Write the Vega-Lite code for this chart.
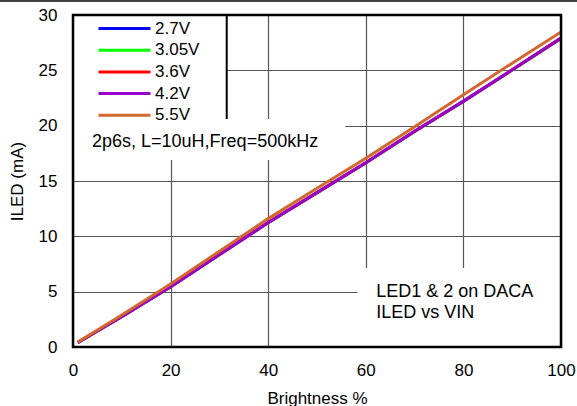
{
  "$schema": "https://vega.github.io/schema/vega-lite/v6.json",
  "width": 488,
  "height": 332,
  "autosize": {"type": "none"},
  "padding": {"left": 73, "top": 15, "right": 16, "bottom": 59},
  "config": {
    "font": "Liberation Sans",
    "view": {"stroke": null},
    "axis": {
      "labelFontSize": 17,
      "titleFontSize": 17,
      "labelColor": "#000",
      "titleColor": "#000",
      "titleFontWeight": "normal",
      "gridColor": "#555",
      "gridWidth": 1.2,
      "gridOpacity": 1,
      "domain": false,
      "ticks": false,
      "labelFlush": false
    }
  },
  "data": {
    "values": [
      {"b": 1, "i": 0.4, "s": "2.7V"}, {"b": 10, "i": 2.74, "s": "2.7V"}, {"b": 20, "i": 5.44, "s": "2.7V"}, {"b": 30, "i": 8.34, "s": "2.7V"}, {"b": 40, "i": 11.24, "s": "2.7V"}, {"b": 50, "i": 13.94, "s": "2.7V"}, {"b": 60, "i": 16.64, "s": "2.7V"}, {"b": 70, "i": 19.48, "s": "2.7V"}, {"b": 80, "i": 22.18, "s": "2.7V"}, {"b": 90, "i": 25.02, "s": "2.7V"}, {"b": 100, "i": 27.88, "s": "2.7V"},
      {"b": 1, "i": 0.4, "s": "3.05V"}, {"b": 10, "i": 2.75, "s": "3.05V"}, {"b": 20, "i": 5.45, "s": "3.05V"}, {"b": 30, "i": 8.35, "s": "3.05V"}, {"b": 40, "i": 11.25, "s": "3.05V"}, {"b": 50, "i": 13.95, "s": "3.05V"}, {"b": 60, "i": 16.65, "s": "3.05V"}, {"b": 70, "i": 19.5, "s": "3.05V"}, {"b": 80, "i": 22.2, "s": "3.05V"}, {"b": 90, "i": 25.04, "s": "3.05V"}, {"b": 100, "i": 27.9, "s": "3.05V"},
      {"b": 1, "i": 0.4, "s": "3.6V"}, {"b": 10, "i": 2.75, "s": "3.6V"}, {"b": 20, "i": 5.45, "s": "3.6V"}, {"b": 30, "i": 8.35, "s": "3.6V"}, {"b": 40, "i": 11.25, "s": "3.6V"}, {"b": 50, "i": 13.95, "s": "3.6V"}, {"b": 60, "i": 16.65, "s": "3.6V"}, {"b": 70, "i": 19.5, "s": "3.6V"}, {"b": 80, "i": 22.21, "s": "3.6V"}, {"b": 90, "i": 25.05, "s": "3.6V"}, {"b": 100, "i": 27.91, "s": "3.6V"},
      {"b": 1, "i": 0.4, "s": "4.2V"}, {"b": 10, "i": 2.75, "s": "4.2V"}, {"b": 20, "i": 5.45, "s": "4.2V"}, {"b": 30, "i": 8.35, "s": "4.2V"}, {"b": 40, "i": 11.25, "s": "4.2V"}, {"b": 50, "i": 13.95, "s": "4.2V"}, {"b": 60, "i": 16.65, "s": "4.2V"}, {"b": 70, "i": 19.5, "s": "4.2V"}, {"b": 80, "i": 22.22, "s": "4.2V"}, {"b": 90, "i": 25.05, "s": "4.2V"}, {"b": 100, "i": 27.92, "s": "4.2V"},
      {"b": 1, "i": 0.45, "s": "5.5V"}, {"b": 10, "i": 2.9, "s": "5.5V"}, {"b": 20, "i": 5.7, "s": "5.5V"}, {"b": 30, "i": 8.65, "s": "5.5V"}, {"b": 40, "i": 11.6, "s": "5.5V"}, {"b": 50, "i": 14.35, "s": "5.5V"}, {"b": 60, "i": 17.05, "s": "5.5V"}, {"b": 70, "i": 19.9, "s": "5.5V"}, {"b": 80, "i": 22.8, "s": "5.5V"}, {"b": 90, "i": 25.65, "s": "5.5V"}, {"b": 100, "i": 28.46, "s": "5.5V"}
    ]
  },
  "layer": [
    {
      "mark": {"type": "line", "strokeWidth": 3},
      "encoding": {
        "x": {"field": "b", "type": "quantitative", "scale": {"domain": [0, 100], "nice": false},
              "axis": {"title": "Brightness %", "values": [0, 20, 40, 60, 80, 100], "labelPadding": 15, "titlePadding": 12}},
        "y": {"field": "i", "type": "quantitative", "scale": {"domain": [0, 30], "nice": false},
              "axis": {"title": "ILED (mA)", "values": [0, 5, 10, 15, 20, 25, 30], "labelPadding": 16, "titlePadding": 12}},
        "color": {
          "field": "s", "type": "nominal",
          "scale": {"domain": ["2.7V", "3.05V", "3.6V", "4.2V", "5.5V"], "range": ["#0000ff", "#00ff00", "#ff0000", "#9900cc", "#d2672f"]},
          "legend": {"title": null, "orient": "none", "legendX": 43, "legendY": 5, "padding": 0,
                     "symbolType": "M-5,0H5", "symbolSize": 108, "symbolStrokeWidth": 3,
                     "labelFontSize": 17, "labelColor": "#000", "labelOffset": 22, "rowPadding": 3.7}
        }
      }
    },
    {
      "data": {"values": [{}]},
      "mark": {"type": "rect", "fill": "white", "stroke": "black", "strokeWidth": 2},
      "encoding": {"x": {"datum": 0, "type": "quantitative"}, "x2": {"datum": 31.5}, "y": {"datum": 30, "type": "quantitative"}, "y2": {"datum": 20.3}}
    },
    {
      "data": {"values": [{}]},
      "mark": {"type": "rect", "fill": "white"},
      "encoding": {"x": {"datum": 0, "type": "quantitative"}, "x2": {"datum": 55.8}, "y": {"datum": 20.6, "type": "quantitative"}, "y2": {"datum": 16.9}}
    },
    {
      "data": {"values": [{}]},
      "mark": {"type": "rect", "fill": "white"},
      "encoding": {"x": {"datum": 58.3, "type": "quantitative"}, "x2": {"datum": 100}, "y": {"datum": 7.14, "type": "quantitative"}, "y2": {"datum": 0}}
    },
    {
      "data": {"values": [{}]},
      "mark": {"type": "text", "align": "left", "baseline": "middle", "fontSize": 18, "color": "#000", "text": "2p6s, L=10uH,Freq=500kHz"},
      "encoding": {"x": {"datum": 3.9, "type": "quantitative"}, "y": {"datum": 18.55, "type": "quantitative"}}
    },
    {
      "data": {"values": [{}]},
      "mark": {"type": "text", "align": "left", "baseline": "middle", "fontSize": 18, "color": "#000", "text": "LED1 & 2 on DACA"},
      "encoding": {"x": {"datum": 62.15, "type": "quantitative"}, "y": {"datum": 4.97, "type": "quantitative"}}
    },
    {
      "data": {"values": [{}]},
      "mark": {"type": "text", "align": "left", "baseline": "middle", "fontSize": 18, "color": "#000", "text": "ILED vs VIN"},
      "encoding": {"x": {"datum": 62.15, "type": "quantitative"}, "y": {"datum": 3.07, "type": "quantitative"}}
    },
    {
      "data": {"values": [{}]},
      "mark": {"type": "rect", "fill": null, "fillOpacity": 0, "stroke": "black", "strokeWidth": 2.5},
      "encoding": {"x": {"datum": 0, "type": "quantitative"}, "x2": {"datum": 100}, "y": {"datum": 30, "type": "quantitative"}, "y2": {"datum": 0}}
    },
    {
      "data": {"values": [{}]},
      "mark": {"type": "rule", "stroke": "black", "strokeWidth": 1.5},
      "encoding": {"x": {"datum": -15, "type": "quantitative"}, "x2": {"datum": 104}, "y": {"datum": 31.27, "type": "quantitative"}}
    }
  ]
}
